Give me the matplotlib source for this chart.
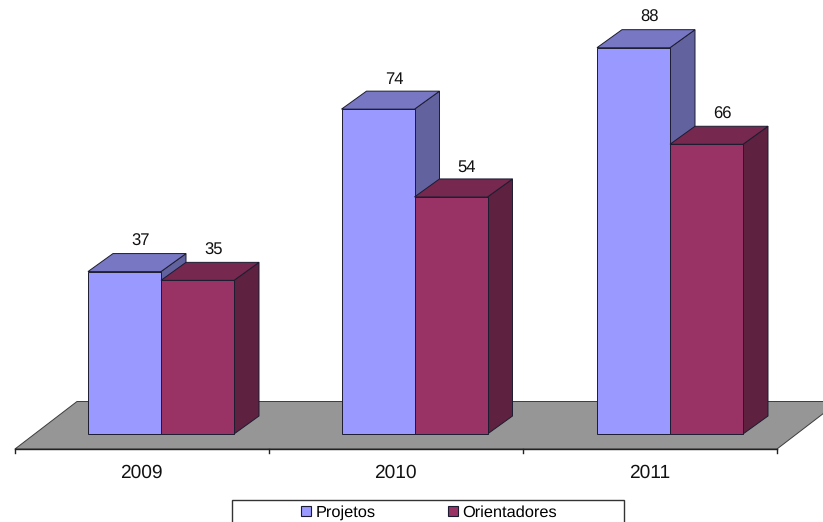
import matplotlib
matplotlib.use('Agg')
import matplotlib.pyplot as plt
from matplotlib.patches import Patch, Polygon, Rectangle

plt.rcParams['font.family'] = ['Liberation Sans', 'DejaVu Sans']
plt.rcParams['text.hinting'] = 'no_hinting'

years = ['2009', '2010', '2011']
series_names = ['Projetos', 'Orientadores']
projetos = [37, 74, 88]
orientadores = [35, 54, 66]

W, H = 823, 522
x0, x_step = 161, 254.5    # pixel position of first group, pixels per category
y0, y_step = 434, 4.39     # pixel position of value 0, pixels per unit

bar_w = 73 / x_step
dx = 25 / x_step
dy = 18 / y_step

# (front, top, side)
colors = [('#9999ff', '#7777c4', '#62629f'),
          ('#993366', '#76284f', '#5e2140')]
edge = '#1c1c30'

fig = plt.figure(figsize=(W / 100, H / 100), dpi=100)
ax = fig.add_axes([0, 0, 1, 1])
ax.set_xlim(-x0 / x_step, (W - x0) / x_step)
ax.set_ylim((y0 - H) / y_step, y0 / y_step)
ax.axis('off')


def px(x):
    return (x - x0) / x_step


def py(y):
    return (y0 - y) / y_step


# Floor
floor_l, floor_r = px(15), px(777)
floor_y = py(449)
floor_back = py(401.5)
ax.add_patch(Polygon([(floor_l, floor_y), (floor_r, floor_y),
                      (floor_r + 62 / x_step, floor_back), (floor_l + 62 / x_step, floor_back)],
                     facecolor='#969696', edgecolor='#3c3c3c', lw=0.7, zorder=1))

# Category axis
ax.plot([floor_l, floor_r], [floor_y, floor_y], color='#222222', lw=1, zorder=2)
for i in range(len(years) + 1):
    t = floor_l + i * (floor_r - floor_l) / len(years)
    ax.plot([t, t], [floor_y, py(453)], color='#222222', lw=1, zorder=2)


def draw_bar(left, value, cols, z):
    right = left + bar_w
    front, top, side = cols
    ax.add_patch(Polygon([(right, 0), (right + dx, dy), (right + dx, value + dy), (right, value)],
                         facecolor=side, edgecolor=edge, lw=0.7, zorder=z))
    ax.add_patch(Polygon([(left, value), (right, value), (right + dx, value + dy), (left + dx, value + dy)],
                         facecolor=top, edgecolor=edge, lw=0.7, zorder=z))
    ax.add_patch(Rectangle((left, 0), bar_w, value,
                           facecolor=front, edgecolor=edge, lw=0.7, zorder=z))
    ax.text(left + bar_w / 2 + 16 / x_step, value + dy + 4 / y_step, str(value),
            ha='center', va='bottom', fontsize=12, color='#111111', zorder=10)


for i, year in enumerate(years):
    center = i - (1 / x_step if i == 1 else 0)    # middle group sits a pixel left
    draw_bar(center - bar_w, projetos[i], colors[0], 3 + i * 2)
    draw_bar(center, orientadores[i], colors[1], 4 + i * 2)
    ax.text(i - 20 / x_step, py(473), year, ha='center', va='center',
            fontsize=13.8, color='#111111')

# Legend box runs off the bottom of the picture
ax.add_patch(Rectangle((px(231.5), py(530)), 392.5 / x_step, 30.5 / y_step,
                       facecolor='white', edgecolor='#333333', lw=1, zorder=8))
handles = [Patch(facecolor=colors[0][0], edgecolor=edge, lw=0.8),
           Patch(facecolor=colors[1][0], edgecolor=edge, lw=0.8)]
leg = ax.legend(handles, series_names, ncol=2, frameon=False, fontsize=11.8,
                loc='center', bbox_to_anchor=(429 / W, 1 - 512.5 / H),
                handlelength=0.6, handleheight=0.6, handletextpad=0.3,
                columnspacing=4.4, borderpad=0, borderaxespad=0)
leg.set_zorder(9)

fig.savefig('out.png', dpi=100)
